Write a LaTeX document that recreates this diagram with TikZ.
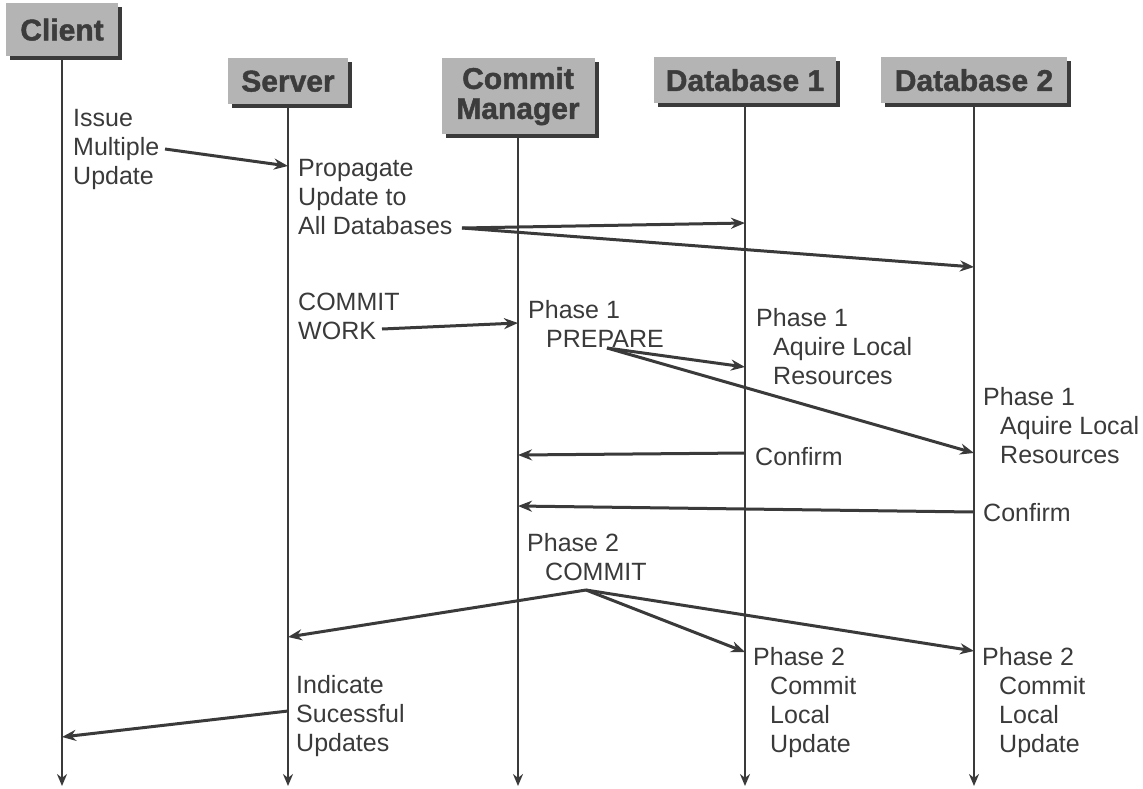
\documentclass[tikz,border=0pt]{standalone}
\usepackage{fontspec}
\setmainfont{Liberation Sans}
\newfontfamily\headfont[FakeBold=1.5]{Liberation Sans Bold}
\usetikzlibrary{arrows.meta, shadows}
\definecolor{inkcolor}{RGB}{58, 58, 58}
\definecolor{headcolor}{RGB}{180, 180, 180}
\definecolor{headtext}{RGB}{60, 60, 60}
\tikzstyle{actorbox} = [
    rectangle,
    fill=headcolor,
    text=headtext,
    font=\headfont\fontsize{30}{30}\selectfont,
    align=center,
    inner xsep=8pt,
    inner ysep=8pt,
    drop shadow={shadow xshift=4pt, shadow yshift=-4pt, fill=inkcolor, opacity=1}
]
\tikzstyle{lifeline} = [
    -{Stealth[length=12pt, width=10pt]},
    line width=2.5pt,
    color=inkcolor
]
\tikzstyle{msg} = [
    -{Stealth[length=14pt, width=11pt]},
    line width=3pt,
    color=inkcolor
]
\tikzstyle{note} = [
    anchor=north west,
    inner sep=0pt,
    align=left,
    text=inkcolor,
    font=\fontsize{25}{29}\selectfont
]

\begin{document}
\begin{tikzpicture}[x=1pt, y=-1pt]
\useasboundingbox (0,0) rectangle (1143,788);

% Participants
\node[actorbox, anchor=north, minimum width=112pt, minimum height=53pt] (client) at (62,3) {Client};
\node[actorbox, anchor=north, minimum width=120pt, minimum height=46pt] (server) at (288,58) {Server};
\node[actorbox, anchor=north, minimum width=153pt, minimum height=76pt] (commitmgr) at (518,58) {Commit\\Manager};
\node[actorbox, anchor=north, minimum width=182pt, minimum height=46pt] (dbone) at (745,57) {Database 1};
\node[actorbox, anchor=north, minimum width=186pt, minimum height=46pt] (dbtwo) at (974,57) {Database 2};

% Lifelines
\coordinate (bottom) at (0,786);
\draw[lifeline] (client.south) -- (client |- bottom);
\draw[lifeline] (server.south) -- (server |- bottom);
\draw[lifeline] (commitmgr.south) -- (commitmgr |- bottom);
\draw[lifeline] (dbone.south) -- (dbone |- bottom);
\draw[lifeline] (dbtwo.south) -- (dbtwo |- bottom);

% Step texts
\node[note] (issue) at (73,109) {Issue\\Multiple\\Update};
\node[note] (propagate) at (298,159) {Propagate\\Update to\\All Databases};
\node[note] (commitwork) at (298,293) {COMMIT\\WORK};
\node[note] (prepare) at (528,300) {Phase 1\\\hspace*{18pt}PREPARE};
\node[note] (acquireone) at (756,308) {Phase 1\\\hspace*{17pt}Aquire Local\\\hspace*{17pt}Resources};
\node[note] (acquiretwo) at (983,387) {Phase 1\\\hspace*{17pt}Aquire Local\\\hspace*{17pt}Resources};
\node[note] (confirmone) at (755,447) {Confirm};
\node[note] (confirmtwo) at (983,503) {Confirm};
\node[note] (phasetwo) at (527,533) {Phase 2\\\hspace*{18pt}COMMIT};
\node[note] (indicate) at (296,675) {Indicate\\Sucessful\\Updates};
\node[note] (localone) at (753,647) {Phase 2\\\hspace*{17pt}Commit\\\hspace*{17pt}Local\\\hspace*{17pt}Update};
\node[note] (localtwo) at (982,647) {Phase 2\\\hspace*{17pt}Commit\\\hspace*{17pt}Local\\\hspace*{17pt}Update};

% Message end points
\coordinate (issueout) at (165,149);
\coordinate (serverin) at (288,166);
\coordinate (propout) at (462,228);
\coordinate (dbonein) at (745,223);
\coordinate (dbtwoin) at (974,267);
\coordinate (workout) at (382,329);
\coordinate (cmin) at (518,323);
\coordinate (prepout) at (607,348);
\coordinate (dbonelock) at (745,367);
\coordinate (dbtwolock) at (974,453);
\coordinate (dboneok) at (745,453);
\coordinate (cmokone) at (518,455);
\coordinate (dbtwook) at (974,512);
\coordinate (cmoktwo) at (518,506);
\coordinate (commitout) at (586,590);
\coordinate (serverdone) at (288,637);
\coordinate (dbonedone) at (745,652);
\coordinate (dbtwodone) at (974,651);
\coordinate (serverout) at (288,711);
\coordinate (clientin) at (62,737);

% Update request
\draw[msg] (issueout) -- (serverin);
\draw[msg] (propout) -- (dbonein);
\draw[msg] (propout) -- (dbtwoin);

% Phase 1
\draw[msg] (workout) -- (cmin);
\draw[msg] (prepout) -- (dbonelock);
\draw[msg] (prepout) -- (dbtwolock);
\draw[msg] (dboneok) -- (cmokone);
\draw[msg] (dbtwook) -- (cmoktwo);

% Phase 2
\draw[msg] (commitout) -- (serverdone);
\draw[msg] (commitout) -- (dbonedone);
\draw[msg] (commitout) -- (dbtwodone);
\draw[msg] (serverout) -- (clientin);

\end{tikzpicture}
\end{document}
